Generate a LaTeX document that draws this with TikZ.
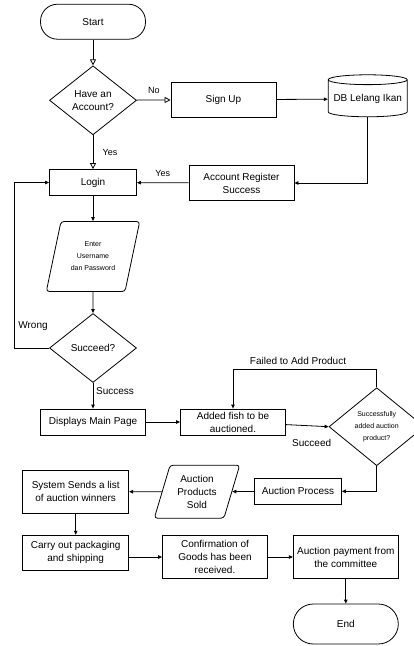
\documentclass[tikz,border=0pt]{standalone}
\usepackage{fontspec}
\setmainfont{Liberation Sans}
\usetikzlibrary{shapes.geometric,arrows.meta}
\begin{document}
\begin{tikzpicture}[x=1pt,y=-1pt,
  every node/.style={font=\fontsize{10pt}{13pt}\selectfont, inner sep=1pt},
  box/.style={draw, line width=0.8pt, align=center, inner sep=0pt},
  term/.style={draw, line width=0.8pt, rounded corners=17pt},
  decision/.style={draw, diamond, line width=0.8pt, align=center, inner sep=0pt},
  io/.style={draw, trapezium, trapezium stretches=true, trapezium left angle=71, trapezium right angle=109, rounded corners=3pt, line width=0.8pt, align=center},
  db/.style={draw, cylinder, shape border rotate=90, aspect=0.14, line width=0.8pt},
  lbl/.style={font=\fontsize{9pt}{11pt}\selectfont},
  small/.style={font=\fontsize{7pt}{12pt}\selectfont},
  line/.style={line width=0.8pt, -{Triangle[length=4pt,width=3.5pt]}},
  oline/.style={line width=0.8pt, -{Triangle[open,length=6pt,width=6pt]}}]
\useasboundingbox (0,0) rectangle (414,646);
\node[term, minimum width=105pt, minimum height=35pt] (start) at (93,21.7){Start};
\node[decision, minimum width=87pt, minimum height=69pt] (acc) at (93,100.3){Have an\\Account?};
\node[box, minimum width=105pt, minimum height=35pt] (signup) at (223.5,99.7){Sign Up};
\node[db, minimum width=79pt, minimum height=42pt] (dbase) at (367.7,99){DB Lelang Ikan};
\node[box, minimum width=87pt, minimum height=26pt] (login) at (93,182.5){Login};
\node[box, minimum width=105pt, minimum height=35pt] (reg) at (241.5,183){Account Register\\Success};
\node[io, small, minimum width=94pt, minimum height=70pt] (input) at (93,256.5){Enter\\Username\\dan Password};
\node[decision, minimum width=87pt, minimum height=69pt] (ok) at (93,348){Succeed?};
\node[box, minimum width=105pt, minimum height=26pt] (mainpg) at (93,422){Displays Main Page};
\node[box, minimum width=105pt, minimum height=26pt] (addfish) at (233,422){Added fish to be\\auctioned.};
\node[decision, small, minimum width=95.4pt, minimum height=78pt] (added) at (376.7,426.7){Successfully\\added auction\\product?};
\node[box, minimum width=87pt, minimum height=26pt] (process) at (298,491.3){Auction Process};
\node[io, minimum width=86pt, minimum height=53pt] (sold) at (197,491.7){Auction\\Products\\Sold};
\node[box, minimum width=106pt, minimum height=43pt] (winners) at (75.7,491.7){System Sends a list\\of auction winners};
\node[box, minimum width=106pt, minimum height=35pt] (pack) at (75.7,552.7){Carry out packaging\\and shipping};
\node[box, minimum width=105pt, minimum height=43pt] (confirm) at (215,557){Confirmation of\\Goods has been\\received.};
\node[box, minimum width=105pt, minimum height=43pt] (payment) at (345.8,557){Auction payment from\\the committee};
\node[term, minimum width=105pt, minimum height=40pt, rounded corners=20pt] (finish) at (345.8,624){End};
\node[lbl] (lno) at (154,90.7){No};
\node[lbl] (lyes1) at (110,152){Yes};
\node[lbl] (lyes2) at (162.7,173.7){Yes};
\node (lwrong) at (33,325.7){Wrong};
\node (lsuccess) at (115,391){Success};
\node (lfailed) at (298,360.7){Failed to Add Product};
\node (lsucceed) at (311.7,443.3){Succeed};
\draw[oline](start) -- (acc);
\draw[oline](acc) -- (signup);
\draw[oline](acc) -- (login);
\draw[line](signup) -- (dbase);
\draw[line](dbase.south) |- (reg.east);
\draw[line](reg) -- (login);
\draw[line](login) -- (input);
\draw[line](input) -- (ok);
\draw[line](ok.west) -- ++(-35,0) |- (login.west);
\draw[line](ok) -- (mainpg);
\draw[line](mainpg) -- (addfish);
\draw[line](addfish) -- (added.west);
\draw[line](added.north) -- ++(0,-17.7) -| (addfish.north);
\draw[line](added.south) |- (process.east);
\draw[line](process) -- (sold);
\draw[line](sold) -- (winners);
\draw[line](winners) -- (pack);
\draw[line](pack.east |- confirm.west) -- (confirm.west);
\draw[line](confirm) -- (payment);
\draw[line](payment) -- (finish);
\end{tikzpicture}
\end{document}
